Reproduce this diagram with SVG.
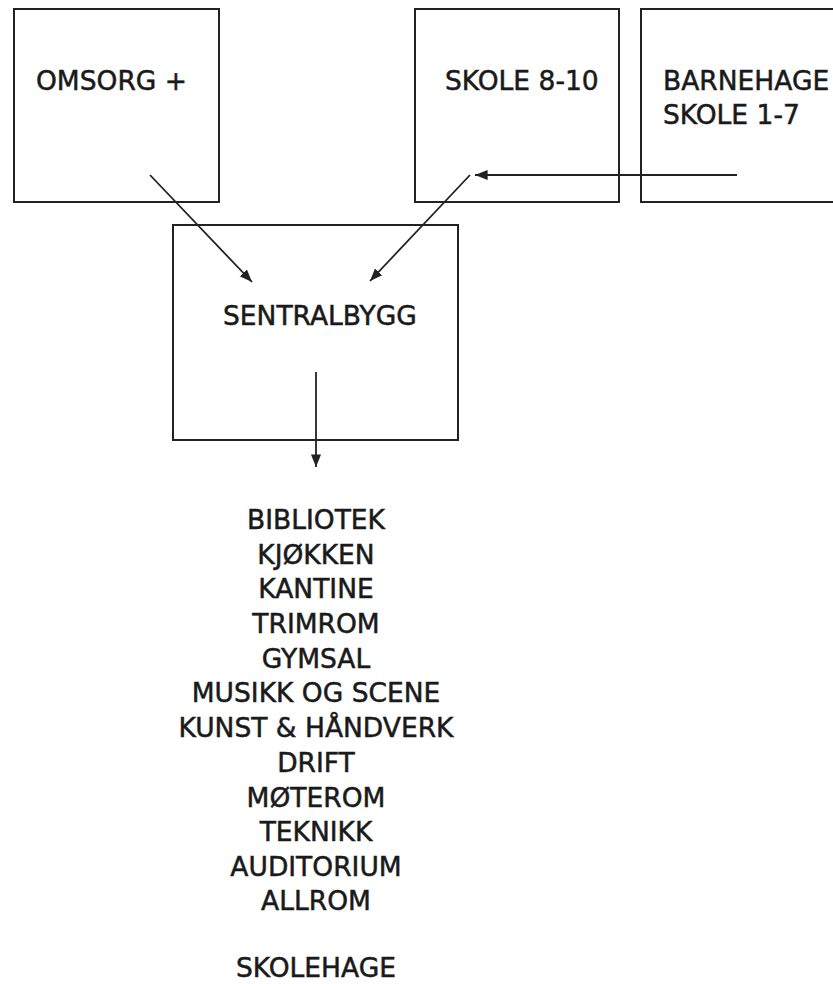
<svg xmlns="http://www.w3.org/2000/svg" width="833" height="984" viewBox="0 0 833 984">
<style>
.box{fill:#fff;stroke:#222;stroke-width:2}
.t{font-family:"DejaVu Sans","Verdana",sans-serif;font-size:26.5px;fill:#1a1a1a;stroke:#1a1a1a;stroke-width:0.5}
.c{text-anchor:middle}
.con line{stroke:#222;stroke-width:1.8;marker-end:url(#ah)}
</style>
<defs>
<marker id="ah" viewBox="0 0 10 10" refX="10" refY="5" markerWidth="7" markerHeight="7" orient="auto" markerUnits="strokeWidth">
<path d="M0,1 L10,5 L0,9 z" fill="#222"/>
</marker>
</defs>
<rect width="833" height="984" fill="#fff"/>
<g id="omsorg"><rect class="box" x="14" y="9" width="205" height="193"/><text class="t" x="36" y="90">OMSORG +</text></g>
<g id="skole810"><rect class="box" x="415" y="9" width="204" height="193"/><text class="t" x="445" y="90">SKOLE 8-10</text></g>
<g id="barnehage"><rect class="box" x="641" y="9" width="210" height="193"/><text class="t" x="663" y="90">BARNEHAGE</text><text class="t" x="663" y="124">SKOLE 1-7</text></g>
<g id="sentralbygg"><rect class="box" x="173" y="225" width="285" height="215"/><text class="t" x="223" y="325">SENTRALBYGG</text></g>
<g id="liste">
<text class="t c" x="316" y="529">BIBLIOTEK</text>
<text class="t c" x="316" y="564">KJØKKEN</text>
<text class="t c" x="316" y="598">KANTINE</text>
<text class="t c" x="316" y="633">TRIMROM</text>
<text class="t c" x="316" y="668">GYMSAL</text>
<text class="t c" x="316" y="702">MUSIKK OG SCENE</text>
<text class="t c" x="316" y="737">KUNST &amp; HÅNDVERK</text>
<text class="t c" x="316" y="772">DRIFT</text>
<text class="t c" x="316" y="807">MØTEROM</text>
<text class="t c" x="316" y="841">TEKNIKK</text>
<text class="t c" x="316" y="876">AUDITORIUM</text>
<text class="t c" x="316" y="910">ALLROM</text>
<text class="t c" x="316" y="977">SKOLEHAGE</text>
</g>
<g id="connectors" class="con">
<line x1="150" y1="175" x2="252" y2="282"/>
<line x1="470" y1="175" x2="370" y2="281"/>
<line x1="737" y1="175" x2="475" y2="175"/>
<line x1="316" y1="372" x2="316" y2="467"/>
</g>
</svg>
